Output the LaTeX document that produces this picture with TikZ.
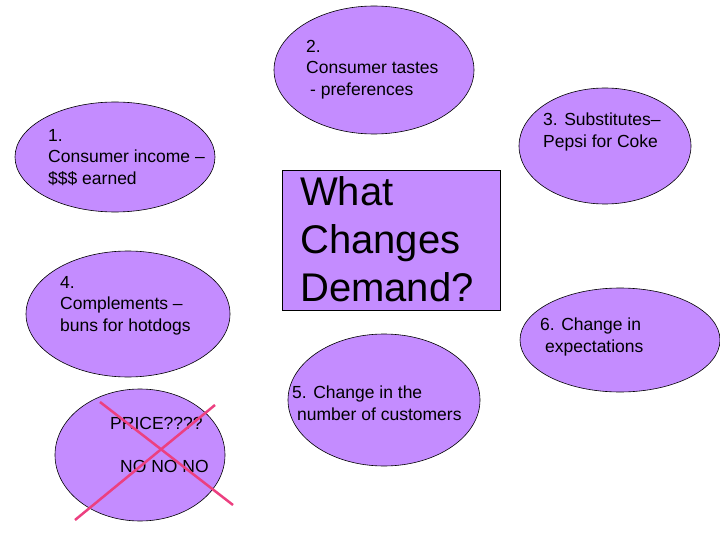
\documentclass[tikz,border=0pt]{standalone}
\usepackage{fontspec}
\setmainfont{Liberation Sans}
\definecolor{vio}{RGB}{196,140,255}
\definecolor{pk}{RGB}{236,64,128}
\begin{document}
\begin{tikzpicture}[x=1pt,y=-1pt,
 ell/.style={draw=black,fill=vio,line width=0.6pt},
 lbl/.style={align=left,anchor=north west,font=\fontsize{17.5}{21.5}\selectfont,inner sep=0}]
\useasboundingbox (0,0) rectangle (720,540);
\fill[vio,draw=black] (282,170) rectangle (500,310) node[pos=0.5,draw=none] (box) {};
\draw[ell] (115,157) ellipse [x radius=100,y radius=55]; \coordinate (e1) at (115,157);
\draw[ell] (374,70) ellipse [x radius=100,y radius=64]; \coordinate (e2) at (374,70);
\draw[ell] (605,146) ellipse [x radius=86,y radius=58]; \coordinate (e3) at (605,146);
\draw[ell] (128,314) ellipse [x radius=102,y radius=63]; \coordinate (e4) at (128,314);
\draw[ell] (140,455) ellipse [x radius=85,y radius=66]; \coordinate (e7) at (140,455);
\draw[ell] (384,400) ellipse [x radius=96,y radius=66]; \coordinate (e5) at (384,400);
\draw[ell] (620,340) ellipse [x radius=100,y radius=52]; \coordinate (e6) at (620,340);
\node[lbl] (t2) at (306,40) {2.\\Consumer tastes\\\hspace*{4pt}- preferences};
\node[lbl] (t1) at (48,129) {1.\\Consumer income --\\\$\$\$ earned};
\node[lbl] (t3) at (543,113) {3. Substitutes--\\Pepsi for Coke};
\node[lbl,font=\fontsize{40}{48}\selectfont] (tb) at (300,176) {What\\Changes\\Demand?};
\node[lbl] (t4) at (60,276) {4.\\Complements --\\buns for hotdogs};
\node[lbl] (t6) at (540,318) {6. Change in\\\hspace*{5pt}expectations};
\node[lbl] (t5) at (292,386) {5. Change in the\\\hspace*{5pt}number of customers};
\node[lbl] (tp) at (110,417) {PRICE????};
\node[lbl] (tn) at (120,460) {NO NO NO};
\coordinate (a1) at (100,402); \coordinate (a2) at (233,505);
\coordinate (b1) at (75,520); \coordinate (b2) at (215,405);
\draw[pk,line width=2.5pt] (a1) -- (a2);
\draw[pk,line width=2.5pt] (b1) -- (b2);
\end{tikzpicture}
\end{document}
